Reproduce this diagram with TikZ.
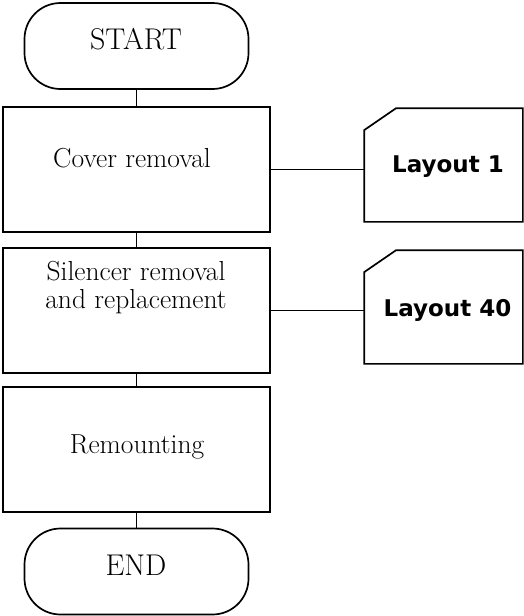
\documentclass[tikz,border=0pt]{standalone}
\usepackage{fontspec}
\newfontfamily\cardfont{DejaVu Sans}
\begin{document}
\begin{tikzpicture}[x=1pt,y=-1pt, line width=1.7pt,
  term/.style={draw, rounded corners=36pt, minimum width=224pt, minimum height=86pt, inner sep=0pt},
  procbox/.style={draw, minimum width=267pt, minimum height=125pt, inner sep=0pt},
  cardbox/.style={minimum width=157pt, minimum height=112pt, inner sep=0pt},
  cardline/.style={draw, line join=miter},
  txt/.style={anchor=base, font=\fontsize{27.5}{31}\selectfont, inner sep=0pt},
  ttxt/.style={anchor=base, font=\fontsize{30}{34}\selectfont, inner sep=0pt},
  ctxt/.style={anchor=base, font=\cardfont\bfseries\fontsize{23}{26}\selectfont, inner sep=0pt},
  link/.style={draw}]
\useasboundingbox (0,0) rectangle (523,616);

% main column
\node[term] (start) at (136.5,46) {};
\node[procbox] (box1) at (136.5,169.5) {};
\node[procbox] (box2) at (136.5,310.5) {};
\node[procbox] (box3) at (136.5,449.5) {};
\node[term] (end) at (136.5,571.5) {};

\node[ttxt] (tstart) at (136,49) {START};
\node[txt] (t1) at (132,167) {Cover removal};
\node[txt] (t2a) at (136,280) {Silencer removal};
\node[txt] (t2b) at (136,308) {and replacement};
\node[txt] (t3) at (137,453) {Remounting};
\node[ttxt] (tend) at (136,575) {END};

% cards
\node[cardbox] (l1) at (443.5,165) {};
\node[cardbox] (l40) at (443.5,307) {};
\draw[cardline] ([xshift=32pt]l1.north west) -- (l1.north east) -- (l1.south east) -- (l1.south west) -- ([yshift=-22pt]l1.north west) -- cycle;
\draw[cardline] ([xshift=32pt]l40.north west) -- (l40.north east) -- (l40.south east) -- (l40.south west) -- ([yshift=-22pt]l40.north west) -- cycle;
\node[ctxt] (tl1) at (448,172) {Layout 1};
\node[ctxt] (tl40) at (447.5,316) {Layout 40};

% connectors
\draw[link] (start.south) -- (box1.north);
\draw[link] (box1.south) -- (box2.north);
\draw[link] (box2.south) -- (box3.north);
\draw[link] (box3.south) -- (end.north);
\draw[link] (box1.east) -- (box1.east -| l1.west);
\draw[link] (box2.east) -- (box2.east -| l40.west);
\end{tikzpicture}
\end{document}
